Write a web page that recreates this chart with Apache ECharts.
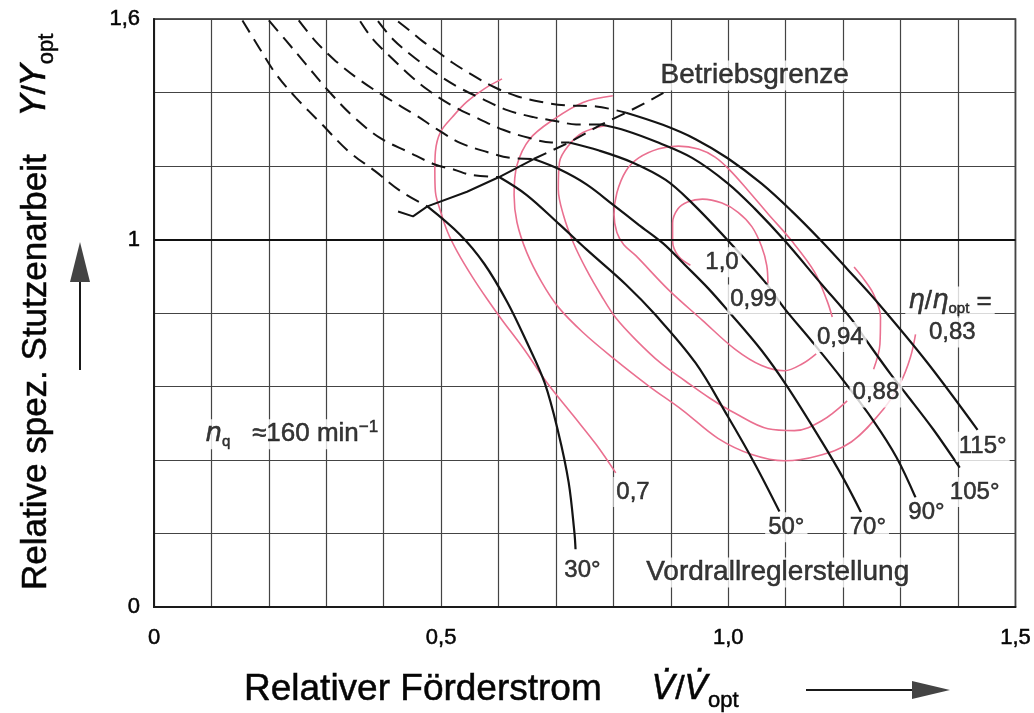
<!DOCTYPE html>
<html>
<head>
<meta charset="utf-8">
<script src="https://cdn.jsdelivr.net/npm/echarts/dist/echarts.min.js"></script>
<style>
html,body{margin:0;padding:0;background:#ffffff;}
#chart{width:1034px;height:713px;}
</style>
</head>
<body>
<div id="chart"></div>
<script>
// ---------------- values ----------------
const xTickValues = [0, 0.5, 1.0, 1.5];
const xTickTexts  = ['0', '0,5', '1,0', '1,5'];
const yTickValues = [0, 1, 1.6];
const yTickTexts  = ['0', '1', '1,6'];

// guide vane settings (Vordrallreglerstellung), dashed part beyond the operating limit
const vane30Dashed  = [[0.154,1.596],[0.183,1.522],[0.212,1.451],[0.247,1.386],[0.292,1.314],[0.338,1.241],[0.385,1.186],[0.430,1.131],[0.476,1.090]];
const vane30Solid   = [[0.476,1.090],[0.533,1.013],[0.575,0.934],[0.615,0.830],[0.649,0.721],[0.680,0.611],[0.704,0.475],[0.722,0.339],[0.732,0.203],[0.734,0.157]];
const vane50Dashed  = [[0.200,1.596],[0.230,1.541],[0.264,1.478],[0.304,1.404],[0.350,1.330],[0.395,1.275],[0.442,1.239],[0.489,1.204],[0.523,1.190],[0.551,1.176],[0.601,1.170]];
const vane50Solid   = [[0.601,1.170],[0.649,1.121],[0.706,1.041],[0.753,0.973],[0.822,0.877],[0.873,0.795],[0.943,0.664],[0.999,0.519],[1.046,0.390],[1.089,0.260]];
const vane70Dashed  = [[0.252,1.596],[0.281,1.540],[0.316,1.486],[0.361,1.431],[0.407,1.384],[0.454,1.340],[0.494,1.299],[0.533,1.263],[0.580,1.238],[0.620,1.222],[0.661,1.219]];
const vane70Solid   = [[0.661,1.219],[0.706,1.191],[0.753,1.150],[0.799,1.095],[0.844,1.040],[0.886,0.990],[0.925,0.930],[0.965,0.867],[0.999,0.807],[1.058,0.698],[1.103,0.599],[1.162,0.452],[1.201,0.348],[1.231,0.258]];
const vane90Dashed  = [[0.359,1.594],[0.381,1.545],[0.411,1.498],[0.442,1.452],[0.476,1.408],[0.516,1.367],[0.558,1.334],[0.609,1.298],[0.654,1.276],[0.692,1.264],[0.723,1.264]];
const vane90Solid   = [[0.723,1.264],[0.775,1.242],[0.834,1.209],[0.891,1.162],[0.937,1.099],[0.999,0.998],[1.063,0.886],[1.098,0.812],[1.145,0.724],[1.201,0.615],[1.253,0.506],[1.293,0.407],[1.326,0.298]];
const vane105Dashed = [[0.390,1.594],[0.416,1.545],[0.451,1.498],[0.489,1.454],[0.528,1.416],[0.571,1.383],[0.615,1.352],[0.661,1.333],[0.701,1.322],[0.735,1.313],[0.779,1.313]];
const vane105Solid  = [[0.779,1.313],[0.822,1.296],[0.879,1.263],[0.937,1.222],[0.999,1.153],[1.046,1.084],[1.098,0.997],[1.162,0.879],[1.214,0.784],[1.241,0.724],[1.283,0.633],[1.310,0.579],[1.357,0.483],[1.403,0.379]];
const vane115Dashed = [[0.425,1.593],[0.447,1.566],[0.468,1.539],[0.494,1.511],[0.520,1.481],[0.554,1.448],[0.592,1.415],[0.632,1.390],[0.675,1.374],[0.718,1.365],[0.770,1.362],[0.822,1.345]];
const vane115Solid  = [[0.822,1.345],[0.886,1.312],[0.943,1.273],[0.999,1.221],[1.058,1.152],[1.110,1.078],[1.162,0.996],[1.207,0.920],[1.258,0.832],[1.345,0.668],[1.434,0.482]];

// operating limit (Betriebsgrenze)
const limitSolid  = [[0.425,1.076],[0.451,1.063],[0.476,1.090],[0.545,1.130],[0.601,1.170],[0.661,1.219]];
const limitDashed = [[0.661,1.219],[0.723,1.264],[0.779,1.313],[0.822,1.345],[0.856,1.372],[0.887,1.399]];

// efficiency contours eta/eta_opt
const eta100  = [[0.934,0.930],[0.913,0.955],[0.903,0.996],[0.903,1.045],[0.912,1.083],[0.929,1.102],[0.955,1.110],[0.989,1.099],[1.017,1.074],[1.041,1.035],[1.058,0.981],[1.067,0.929],[1.069,0.880]];
const eta094  = [[1.181,0.789],[1.172,0.833],[1.150,0.912],[1.110,0.997],[1.069,1.070],[1.034,1.134],[1.003,1.188],[0.977,1.224],[0.948,1.246],[0.913,1.254],[0.879,1.247],[0.844,1.222],[0.822,1.187],[0.806,1.127],[0.801,1.068],[0.806,1.019],[0.818,0.986],[0.839,0.956],[0.896,0.863],[0.955,0.780],[1.012,0.701],[1.058,0.657],[1.098,0.643],[1.129,0.662],[1.153,0.689]];
const eta088  = [[0.787,1.310],[0.747,1.291],[0.722,1.256],[0.706,1.210],[0.704,1.137],[0.713,1.066],[0.730,0.992],[0.753,0.918],[0.779,0.847],[0.804,0.787],[0.839,0.727],[0.882,0.664],[0.925,0.615],[0.968,0.568],[1.012,0.527],[1.069,0.485],[1.115,0.480],[1.162,0.506],[1.207,0.561]];
const eta088b = [[1.253,0.647],[1.264,0.715],[1.265,0.789],[1.253,0.851],[1.236,0.892],[1.219,0.925]];
const eta083  = [[0.799,1.391],[0.747,1.373],[0.696,1.327],[0.654,1.273],[0.632,1.202],[0.627,1.121],[0.632,1.047],[0.649,0.965],[0.675,0.884],[0.704,0.816],[0.747,0.747],[0.799,0.678],[0.861,0.602],[0.920,0.536],[0.982,0.459],[1.041,0.415],[1.098,0.398],[1.155,0.411],[1.214,0.449],[1.270,0.538],[1.300,0.611],[1.317,0.679],[1.326,0.742]];
const eta070  = [[0.606,1.437],[0.575,1.410],[0.545,1.375],[0.520,1.334],[0.499,1.293],[0.490,1.239],[0.489,1.185],[0.490,1.130],[0.499,1.076],[0.511,1.021],[0.528,0.967],[0.554,0.899],[0.580,0.838],[0.606,0.781],[0.644,0.702],[0.684,0.611],[0.730,0.521],[0.770,0.442],[0.804,0.365]];

// text notes inside the plot: [x, y, text]
const numberNotes = [
  [0.989, 0.938, '1,0'],
  [1.044, 0.837, '0,99'],
  [1.195, 0.735, '0,94'],
  [1.257, 0.584, '0,88'],
  [1.390, 0.747, '0,83'],
  [0.834, 0.313, '0,7'],
  [1.443, 0.436, '115°'],
  [1.429, 0.313, '105°'],
  [1.345, 0.257, '90°'],
  [1.243, 0.217, '70°'],
  [1.101, 0.217, '50°'],
  [0.746, 0.099, '30°']
];
const wordNotes = [
  [1.046, 1.446, 'Betriebsgrenze'],
  [1.086, 0.094, 'Vordrallreglerstellung']
];
const formulaNotes = [
  [1.386, 0.831, '{i|η}/{i|η}{sub|opt} ='],
  [0.240, 0.470, '{i|n}{sub|q}   ≈160 min{sup|−1}']
];

// ---------------- chart ----------------
const FONT = "'Liberation Sans', Arial, sans-serif";
const INK = '#050505';
const BLACK = '#141414';
const PINK = '#ea7090';

function pick(values, texts, v) {
  for (let i = 0; i < values.length; i++) if (Math.abs(values[i] - v) < 1e-6) return texts[i];
  return '';
}
function curve(data, color, width, dashed, z) {
  return {
    type: 'line', data: data, symbol: 'none', smooth: 0.35, z: z, silent: true,
    lineStyle: { color: color, width: width, type: dashed ? [14, 8] : 'solid', cap: 'butt' }
  };
}
const heavy = { textBorderColor: INK, textBorderWidth: 0.5 };
function notes(data, size) {
  return {
    type: 'scatter', z: 10, silent: true, symbolSize: 1,
    itemStyle: { color: 'rgba(0,0,0,0)' },
    data: data.map(d => ({ value: [d[0], d[1]], name: d[2] })),
    label: Object.assign({
      show: true, position: 'inside', formatter: p => p.name,
      fontFamily: FONT, fontSize: size, color: INK, lineHeight: 30,
      backgroundColor: '#ffffff', padding: [0, 3, 0, 3],
      rich: {
        i: Object.assign({ fontFamily: "'DejaVu Sans', sans-serif", fontStyle: 'italic', fontSize: size, lineHeight: 30, color: INK }, heavy),
        sub: Object.assign({ fontFamily: FONT, fontSize: 15, lineHeight: 15, verticalAlign: 'bottom', color: INK }, heavy),
        sup: Object.assign({ fontFamily: FONT, fontSize: 17, lineHeight: 17, verticalAlign: 'top', color: INK }, heavy)
      }
    }, heavy)
  };
}

const chart = echarts.init(document.getElementById('chart'), null, { renderer: 'canvas' });

const series = [
  curve(eta070, PINK, 1.6, false, 2),
  curve(eta083, PINK, 1.6, false, 2),
  curve(eta088, PINK, 1.6, false, 2),
  curve(eta088b, PINK, 1.6, false, 2),
  curve(eta094, PINK, 1.6, false, 2),
  curve(eta100, PINK, 1.6, false, 2),
  curve(vane30Dashed, BLACK, 2, true, 3),
  curve(vane50Dashed, BLACK, 2, true, 3),
  curve(vane70Dashed, BLACK, 2, true, 3),
  curve(vane90Dashed, BLACK, 2, true, 3),
  curve(vane105Dashed, BLACK, 2, true, 3),
  curve(vane115Dashed, BLACK, 2, true, 3),
  curve(vane30Solid, BLACK, 2.2, false, 3),
  curve(vane50Solid, BLACK, 2.2, false, 3),
  curve(vane70Solid, BLACK, 2.2, false, 3),
  curve(vane90Solid, BLACK, 2.2, false, 3),
  curve(vane105Solid, BLACK, 2.2, false, 3),
  curve(vane115Solid, BLACK, 2.2, false, 3),
  Object.assign(curve(limitSolid, BLACK, 2, false, 3), { smooth: false }),
  Object.assign(curve(limitDashed, BLACK, 2, true, 3), { smooth: false }),
  notes(numberNotes, 24),
  notes(wordNotes, 28),
  notes(formulaNotes, 26)
];
// bold 1.0 line
series[0].markLine = {
  silent: true, symbol: ['none', 'none'], label: { show: false },
  lineStyle: { color: '#111', width: 2.2, type: 'solid' },
  data: [{ yAxis: 1 }]
};

const titleRich = {
  i: Object.assign({ fontFamily: "'DejaVu Sans', sans-serif", fontStyle: 'italic', fontSize: 34, lineHeight: 44, fill: INK, stroke: INK, lineWidth: 0.5 }),
  n: Object.assign({ fontFamily: FONT, fontSize: 34, lineHeight: 44, fill: INK, stroke: INK, lineWidth: 0.5 }),
  s: Object.assign({ fontFamily: FONT, fontSize: 22, lineHeight: 22, verticalAlign: 'bottom', fill: INK, stroke: INK, lineWidth: 0.5 })
};

chart.setOption({
  animation: false,
  backgroundColor: '#ffffff',
  grid: { left: 154, right: 11, top: 19, bottom: 106, show: true, borderColor: '#222', borderWidth: 1.6 },
  xAxis: {
    type: 'value', min: 0, max: 1.5, interval: 0.1,
    axisLine: { show: true, onZero: false, lineStyle: { color: '#1a1a1a', width: 2 } },
    axisTick: { show: false },
    splitLine: { show: true, lineStyle: { color: '#444', width: 1.2 } },
    axisLabel: Object.assign({
      showMinLabel: true, showMaxLabel: true, margin: 20,
      fontFamily: FONT, fontSize: 22, color: INK,
      formatter: v => pick(xTickValues, xTickTexts, v)
    }, heavy)
  },
  yAxis: {
    type: 'value', min: 0, max: 1.6, interval: 0.2,
    axisLine: { show: true, onZero: false, lineStyle: { color: '#1a1a1a', width: 2 } },
    axisTick: { show: false },
    splitLine: { show: true, lineStyle: { color: '#444', width: 1.2 } },
    axisLabel: Object.assign({
      showMinLabel: true, showMaxLabel: true, margin: 14,
      fontFamily: FONT, fontSize: 22, color: INK,
      formatter: v => pick(yTickValues, yTickTexts, v)
    }, heavy)
  },
  graphic: [
    { type: 'text', x: 244, y: 690, silent: true,
      style: { text: 'Relativer Förderstrom', fontFamily: FONT, fontSize: 37, fill: INK, stroke: INK, lineWidth: 0.5,
               textAlign: 'left', textVerticalAlign: 'middle', align: 'left', verticalAlign: 'middle' } },
    { type: 'text', x: 652, y: 690, silent: true,
      style: { text: '{i|V\u0307}{n|/}{i|V\u0307}{s|opt}', fill: INK,
               textAlign: 'left', textVerticalAlign: 'middle', align: 'left', verticalAlign: 'middle',
               rich: titleRich } },
    { type: 'line', silent: true, shape: { x1: 806, y1: 690, x2: 915, y2: 690 }, style: { stroke: '#1a1a1a', lineWidth: 2 } },
    { type: 'polygon', silent: true, shape: { points: [[912, 681], [950, 690], [912, 699]] }, style: { fill: '#444' } },
    { type: 'text', x: 36, y: 590, rotation: Math.PI / 2, silent: true,
      style: { text: 'Relative spez. Stutzenarbeit    {i|Y}{n|/}{i|Y}{s|opt}', fontFamily: FONT, fontSize: 35, fill: INK, stroke: INK, lineWidth: 0.5,
               textAlign: 'left', textVerticalAlign: 'middle', align: 'left', verticalAlign: 'middle',
               rich: titleRich } },
    { type: 'line', silent: true, shape: { x1: 80, y1: 370, x2: 80, y2: 275 }, style: { stroke: '#1a1a1a', lineWidth: 2 } },
    { type: 'polygon', silent: true, shape: { points: [[70, 282], [80, 242], [90, 282]] }, style: { fill: '#444' } }
  ],
  series: series
});
</script>
</body>
</html>
